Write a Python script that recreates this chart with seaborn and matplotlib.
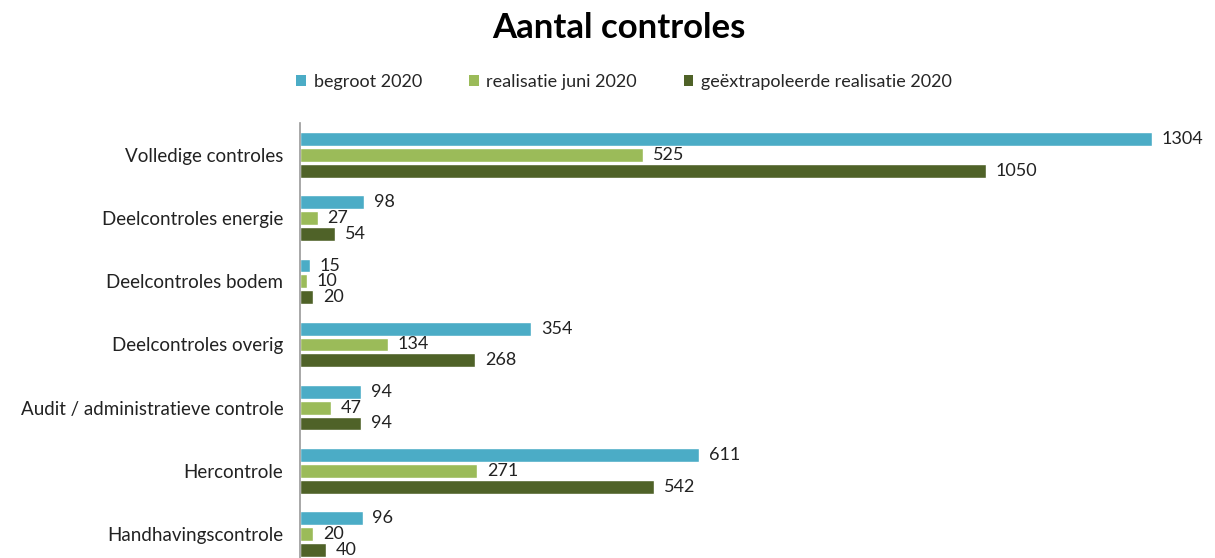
import matplotlib
matplotlib.use("Agg")
import matplotlib.pyplot as plt
import seaborn as sns
import pandas as pd

categories = ["Volledige controles", "Deelcontroles energie", "Deelcontroles bodem",
              "Deelcontroles overig", "Audit / administratieve controle", "Hercontrole",
              "Handhavingscontrole"]
series = ["begroot 2020", "realisatie juni 2020", "geëxtrapoleerde realisatie 2020"]
begroot = [1304, 98, 15, 354, 94, 611, 96]
realisatie_juni = [525, 27, 10, 134, 47, 271, 20]
geextrapoleerd = [1050, 54, 20, 268, 94, 542, 40]
colors = ["#4BACC6", "#9BBB59", "#4F6228"]

rows = []
for s, vals in zip(series, [begroot, realisatie_juni, geextrapoleerd]):
    for c, v in zip(categories, vals):
        rows.append({"cat": c, "serie": s, "val": v})
df = pd.DataFrame(rows)

sns.set_theme(style="white")
plt.rcParams["font.family"] = ["Lato", "DejaVu Sans"]

fig = plt.figure(figsize=(12.15, 5.58), dpi=100)
ax = fig.add_axes([300/1215, 0, 915/1215, 1 - 123.4/558])

sns.barplot(data=df, y="cat", x="val", hue="serie", order=categories, hue_order=series,
            palette=colors, orient="h", width=0.75, gap=0.12, ax=ax, saturation=1,
            legend=False, errorbar=None)

for cont in ax.containers:
    ax.bar_label(cont, padding=7, fontsize=13, color="#222222")

ax.set_xlim(0, 1400)
ax.set_ylim(6.38, -0.5)
ax.set_xlabel("")
ax.set_ylabel("")
ax.set_xticks([])
ax.tick_params(axis="y", length=0, pad=12, labelsize=13.5, labelcolor="#222222")
for sp in ["top", "right", "bottom"]:
    ax.spines[sp].set_visible(False)
ax.spines["left"].set_color("#999999")
ax.spines["left"].set_linewidth(1.2)

from matplotlib.patches import Patch
handles = [Patch(facecolor=c, edgecolor="none") for c in colors]
fig.legend(handles, series, loc="center", bbox_to_anchor=(624/1215, 1 - 82/558), ncol=3,
           frameon=False, fontsize=13, handlelength=0.55, handleheight=0.55,
           handletextpad=0.4, columnspacing=2.6)

fig.text(619/1215, 1 - 28/558, "Aantal controles", ha="center", va="center",
         fontsize=25, fontweight="bold", color="#000000")

fig.savefig("out.png", dpi=100)
